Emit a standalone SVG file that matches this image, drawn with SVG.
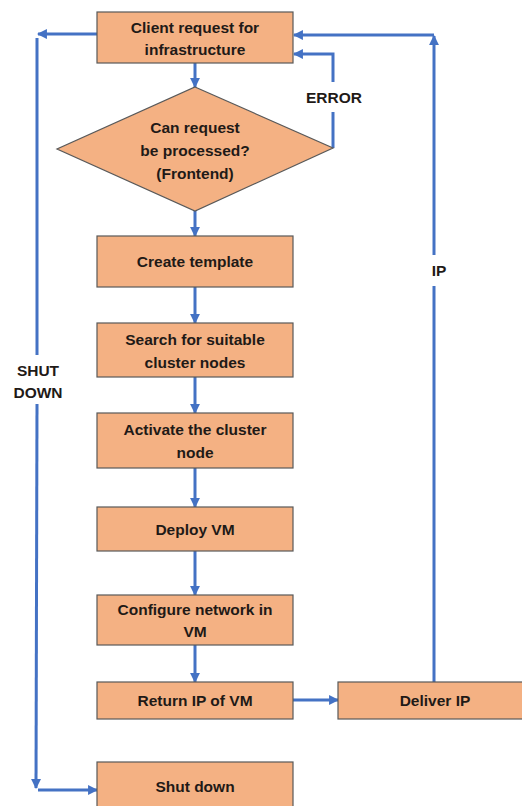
<svg xmlns="http://www.w3.org/2000/svg" width="522" height="806" viewBox="0 0 522 806">
<defs>
<marker id="ah" viewBox="0 0 10 10" refX="9" refY="5" markerWidth="3.3" markerHeight="3.3" orient="auto" markerUnits="strokeWidth">
<path d="M0,0 L10,5 L0,10 z" fill="#4472C4"/>
</marker>
<style>
.box{fill:#F4B183;stroke:#595959;stroke-width:1.2}
.t{font-family:"Liberation Sans",Arial,sans-serif;font-weight:bold;font-size:15.5px;fill:#1f1a17;text-anchor:middle}
.c{fill:none;stroke:#4472C4;stroke-width:3}
.ca{fill:none;stroke:#4472C4;stroke-width:3;marker-end:url(#ah)}
</style>
</defs>
<rect width="522" height="806" fill="#fff"/>
<g id="connectors">
<line class="ca" x1="195" y1="63" x2="195" y2="87"/>
<line class="ca" x1="195" y1="211" x2="195" y2="236"/>
<line class="ca" x1="195" y1="287" x2="195" y2="323"/>
<line class="ca" x1="195" y1="377" x2="195" y2="413"/>
<line class="ca" x1="195" y1="468" x2="195" y2="507"/>
<line class="ca" x1="195" y1="551" x2="195" y2="595"/>
<line class="ca" x1="195" y1="645" x2="195" y2="682"/>
<line class="ca" x1="293" y1="700" x2="338" y2="700"/>
<polyline class="c" points="333,148 333,112"/>
<polyline class="ca" points="333,82 333,54 294,54"/>
<line class="ca" x1="97" y1="34" x2="38" y2="34"/>
<line class="c" x1="37" y1="38" x2="37" y2="355"/>
<line class="ca" x1="37" y1="404" x2="36" y2="788"/>
<line class="ca" x1="38" y1="790" x2="97" y2="790"/>
<line class="c" x1="434" y1="682" x2="434" y2="286"/>
<line class="ca" x1="434" y1="255" x2="434" y2="36"/>
<line class="ca" x1="434" y1="35" x2="294" y2="35"/>
<text class="t" x="334" y="103">ERROR</text>
<text class="t" x="38" y="376">SHUT</text>
<text class="t" x="38" y="398">DOWN</text>
<text class="t" x="439" y="276">IP</text>
</g>
<g id="client">
<rect class="box" x="97" y="12" width="196" height="51"/>
<text class="t" x="195" y="33">Client request for</text>
<text class="t" x="195" y="55">infrastructure</text>
</g>
<g id="decision">
<polygon class="box" points="195,87 333,148 195,211 57,149"/>
<text class="t" x="195" y="133">Can request</text>
<text class="t" x="195" y="156">be processed?</text>
<text class="t" x="195" y="179">(Frontend)</text>
</g>
<g id="template">
<rect class="box" x="97" y="236" width="196" height="51"/>
<text class="t" x="195" y="267">Create template</text>
</g>
<g id="search">
<rect class="box" x="97" y="323" width="196" height="54"/>
<text class="t" x="195" y="345">Search for suitable</text>
<text class="t" x="195" y="368">cluster nodes</text>
</g>
<g id="activate">
<rect class="box" x="97" y="413" width="196" height="55"/>
<text class="t" x="195" y="435">Activate the cluster</text>
<text class="t" x="195" y="458">node</text>
</g>
<g id="deploy">
<rect class="box" x="97" y="507" width="196" height="44"/>
<text class="t" x="195" y="535">Deploy VM</text>
</g>
<g id="configure">
<rect class="box" x="97" y="595" width="196" height="50"/>
<text class="t" x="195" y="615">Configure network in</text>
<text class="t" x="195" y="637">VM</text>
</g>
<g id="returnip">
<rect class="box" x="97" y="682" width="196" height="37"/>
<text class="t" x="195" y="706">Return IP of VM</text>
</g>
<g id="deliverip">
<rect class="box" x="338" y="682" width="190" height="37"/>
<text class="t" x="435" y="706">Deliver IP</text>
</g>
<g id="shutdown">
<rect class="box" x="97" y="762" width="196" height="50"/>
<text class="t" x="195" y="792">Shut down</text>
</g>
</svg>
